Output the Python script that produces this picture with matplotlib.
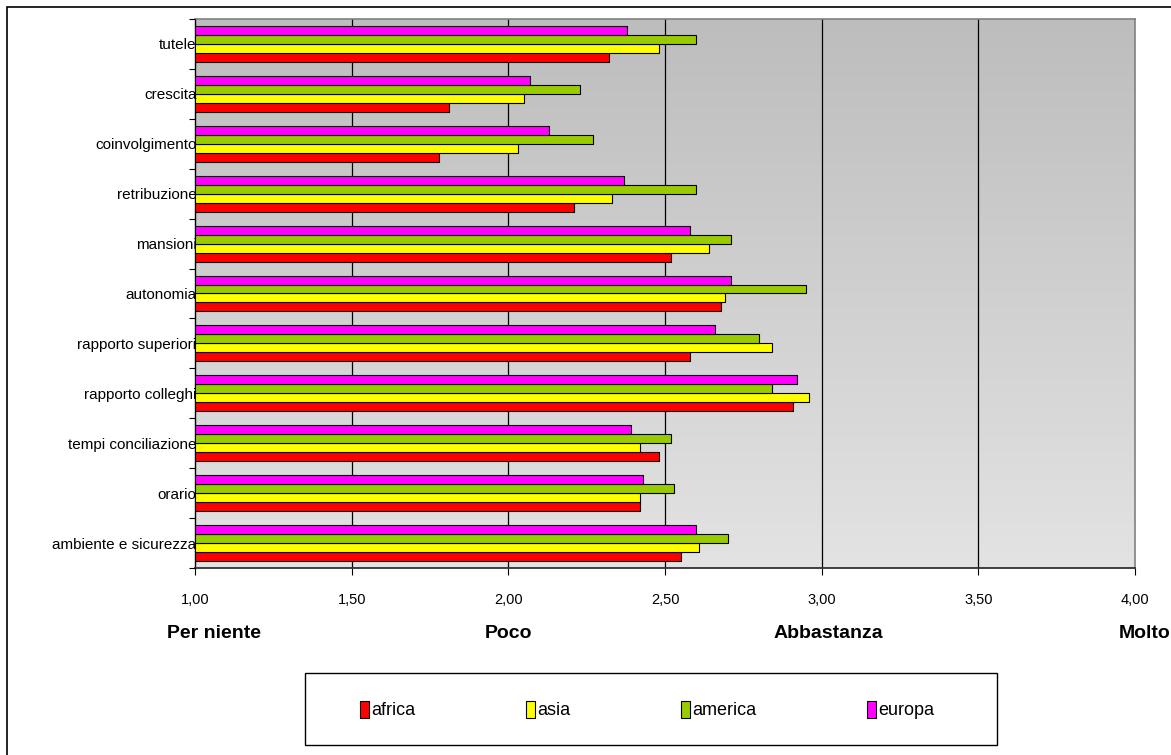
import numpy as np
import matplotlib
matplotlib.use("Agg")
import matplotlib.pyplot as plt
from matplotlib.colors import LinearSegmentedColormap
from matplotlib.patches import Rectangle, Patch

plt.rcParams['font.family'] = ['Liberation Sans', 'DejaVu Sans']

# categories listed bottom -> top (matplotlib order)
categories = ["ambiente e sicurezza", "orario", "tempi conciliazione", "rapporto colleghi",
              "rapporto superiori", "autonomia", "mansioni", "retribuzione",
              "coinvolgimento", "crescita", "tutele"]
africa  = [2.55, 2.42, 2.48, 2.91, 2.58, 2.68, 2.52, 2.21, 1.78, 1.81, 2.32]
asia    = [2.61, 2.42, 2.42, 2.96, 2.84, 2.69, 2.64, 2.33, 2.03, 2.05, 2.48]
america = [2.70, 2.53, 2.52, 2.84, 2.80, 2.95, 2.71, 2.60, 2.27, 2.23, 2.60]
europa  = [2.60, 2.43, 2.39, 2.92, 2.66, 2.71, 2.58, 2.37, 2.13, 2.07, 2.38]
series_names = ["africa", "asia", "america", "europa"]
series_colors = ["#FF0000", "#FFFF00", "#99CC00", "#FF00FF"]
xticks = [1.0, 1.5, 2.0, 2.5, 3.0, 3.5, 4.0]
scale_labels = ["Per niente", "Poco", "Abbastanza", "Molto"]
scale_pos = [1.06, 2.0, 3.02, 4.03]

W, H = 1171, 755
fig = plt.figure(figsize=(W / 100, H / 100), dpi=100)
fig.patch.set_facecolor("white")

# outer chart border (runs off right/bottom edges)
fig.patches.append(Rectangle((7 / W, -0.1), 2, 1 - 7 / H + 0.1, transform=fig.transFigure,
                             fill=False, edgecolor="black", linewidth=1.2))

left, right, top, bottom = 195, 1135, 19, 568
ax = fig.add_axes([left / W, 1 - bottom / H, (right - left) / W, (bottom - top) / H])

n = len(categories)
y = np.arange(n)

# gradient background
cmap = LinearSegmentedColormap.from_list("bg", ["#BDBDBD", "#E3E3E3"])
ax.imshow(np.linspace(0, 1, 256).reshape(-1, 1), cmap=cmap, aspect="auto",
          extent=[1, 4, -0.5, n - 0.5], zorder=0)

for xv in xticks[1:-1]:
    ax.axvline(xv, color="black", linewidth=0.9, zorder=1)

h = 0.18
data = [africa, asia, america, europa]
for i, (vals, col) in enumerate(zip(data, series_colors)):
    ax.barh(y + (i - 1.5) * h, np.array(vals) - 1.0, left=1.0, height=h, color=col,
            edgecolor="black", linewidth=0.8, zorder=3)

ax.set_xlim(1, 4)
ax.set_ylim(-0.5, n - 0.5)

ax.set_xticks(xticks)
ax.set_xticklabels([f"{v:.2f}".replace(".", ",") for v in xticks], fontsize=10.5)
ax.tick_params(axis="x", direction="out", length=5, width=0.8, pad=13, colors="black")

ax.set_yticks(y)
ax.set_yticklabels(categories, fontsize=11)
ax.tick_params(axis="y", which="major", length=0, pad=-1)
ax.set_yticks(np.arange(n + 1) - 0.5, minor=True)
ax.tick_params(axis="y", which="minor", direction="out", length=4, width=0.8)
ax.yaxis.set_zorder(5)  # labels overlap bars like in the original

ax.spines["left"].set_color("black")
ax.spines["left"].set_linewidth(1.0)
ax.spines["bottom"].set_color("#303030")
ax.spines["bottom"].set_linewidth(1.3)
for s in ["top", "right"]:
    ax.spines[s].set_color("#808080")
    ax.spines[s].set_linewidth(1.2)

for lab, xp in zip(scale_labels, scale_pos):
    ax.text(xp, -1.65, lab, ha="center", va="top",
            fontsize=14, fontweight="bold", clip_on=False)

# legend box
fig.patches.append(Rectangle((305 / W, 1 - 745 / H), 692 / W, 72 / H, transform=fig.transFigure,
                             fill=False, edgecolor="black", linewidth=1.0))
handles = [Patch(facecolor=c, edgecolor="black", linewidth=0.8, label=l)
           for c, l in zip(series_colors, series_names)]
fig.legend(handles=handles, ncol=4, frameon=False, loc="center",
           bbox_to_anchor=(647 / W, 1 - 710 / H), fontsize=13,
           handlelength=0.5, handleheight=1.1, handletextpad=0.15, columnspacing=6.1)

fig.savefig("out.png", dpi=100)
